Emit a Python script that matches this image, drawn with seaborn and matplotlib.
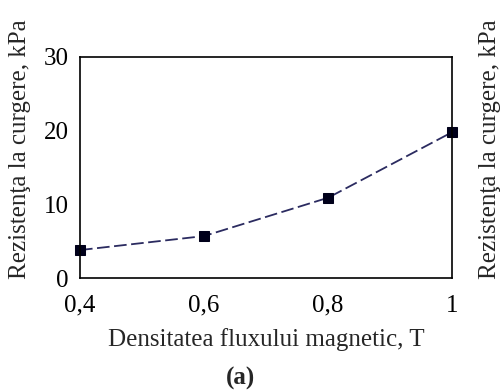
# Rezistenta la curgere vs densitatea fluxului magnetic
import matplotlib
matplotlib.use("Agg")
import matplotlib.pyplot as plt
import seaborn as sns
import pandas as pd

# Data
flux = [0.4, 0.6, 0.8, 1.0]
rezistenta = [3.8, 5.7, 10.9, 19.8]
x_ticks = [0.4, 0.6, 0.8, 1.0]
x_tick_labels = ["0,4", "0,6", "0,8", "1"]
y_ticks = [0, 10, 20, 30]

df = pd.DataFrame({"flux": flux, "rez": rezistenta})

sns.set_style("white")
plt.rcParams["font.family"] = ["Liberation Serif", "DejaVu Serif"]

fig = plt.figure(figsize=(5.03, 3.90), dpi=100)
ax = fig.add_axes([0.159, 0.287, 0.740, 0.567])

sns.lineplot(data=df, x="flux", y="rez", ax=ax, color="#2b2b60",
             linewidth=1.3, marker="s", markersize=7,
             markerfacecolor="#00001a", markeredgecolor="#00001a")
ax.lines[0].set_dashes([7, 2.5])

ax.set_xlim(0.4, 1.0)
ax.set_ylim(0, 30)
ax.set_xticks(x_ticks)
ax.set_xticklabels(x_tick_labels)
ax.set_yticks(y_ticks)
ax.tick_params(direction="in", length=6, width=1, labelsize=18, colors="black")
ax.tick_params(axis="x", pad=12)
ax.tick_params(axis="y", pad=8)
for s in ax.spines.values():
    s.set_color("black")
    s.set_linewidth(1.2)

ax.set_xlabel("Densitatea fluxului magnetic, T", fontsize=18, labelpad=8)
ax.set_ylabel("")

label = "Rezistenţa la curgere, kPa"
fig.text(0.040, 0.618, label, rotation=90, ha="center", va="center", fontsize=18)
fig.text(0.975, 0.618, label, rotation=90, ha="center", va="center", fontsize=18)
fig.text(0.478, 0.030, "(a)", ha="center", va="center", fontsize=18, fontweight="bold")

ax.lines[0].set_clip_on(False)

fig.savefig("out.png", dpi=100)
